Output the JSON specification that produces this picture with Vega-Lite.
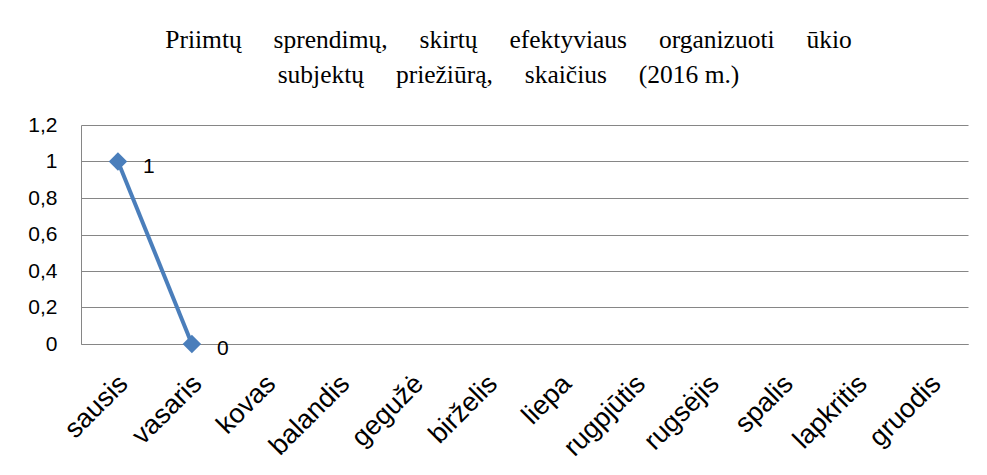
{
  "$schema": "https://vega.github.io/schema/vega-lite/v6.json",
  "width": 887,
  "height": 219,
  "autosize": {"type": "none"},
  "padding": {"left": 81, "top": 125, "right": 19, "bottom": 131},
  "background": "white",
  "title": {
    "text": ["Priimtų\u2003 sprendimų,\u2003 skirtų\u2003 efektyviaus\u2003 organizuoti\u2003 ūkio", "subjektų\u2003 priežiūrą,\u2003 skaičius\u2003 (2016 m.)"],
    "font": "Liberation Serif",
    "fontSize": 25.5,
    "fontWeight": "normal",
    "color": "#000000",
    "lineHeight": 35,
    "anchor": "middle",
    "dx": -16,
    "offset": 26
  },
  "config": {
    "view": {"stroke": null},
    "axis": {
      "labelFont": "Liberation Sans",
      "labelColor": "#000000",
      "domainColor": "#868686",
      "gridColor": "#868686",
      "ticks": false,
      "title": null
    }
  },
  "data": {
    "values": [
      {"menuo": "sausis", "skaicius": 1},
      {"menuo": "vasaris", "skaicius": 0},
      {"menuo": "kovas", "skaicius": null},
      {"menuo": "balandis", "skaicius": null},
      {"menuo": "gegužė", "skaicius": null},
      {"menuo": "birželis", "skaicius": null},
      {"menuo": "liepa", "skaicius": null},
      {"menuo": "rugpjūtis", "skaicius": null},
      {"menuo": "rugsėjis", "skaicius": null},
      {"menuo": "spalis", "skaicius": null},
      {"menuo": "lapkritis", "skaicius": null},
      {"menuo": "gruodis", "skaicius": null}
    ]
  },
  "encoding": {
    "x": {
      "field": "menuo",
      "type": "ordinal",
      "sort": null,
      "scale": {"type": "point", "padding": 0.5},
      "axis": {"labelAngle": -45, "labelFontSize": 27, "labelPadding": 26, "labelOffset": -4, "grid": false, "domain": true}
    },
    "y": {
      "field": "skaicius",
      "type": "quantitative",
      "scale": {"domain": [0, 1.2], "nice": false},
      "axis": {
        "values": [0, 0.2, 0.4, 0.6, 0.8, 1, 1.2],
        "labelExpr": "replace(format(datum.value, '.1~f'), '.', ',')",
        "labelFontSize": 21,
        "labelPadding": 24,
        "grid": true
      }
    }
  },
  "layer": [
    {"mark": {"type": "line", "color": "#4A7EBB", "strokeWidth": 4}},
    {"mark": {"type": "point", "shape": "diamond", "filled": true, "size": 340, "color": "#4A7EBB", "opacity": 1}},
    {
      "mark": {"type": "text", "align": "left", "baseline": "middle", "dx": 25, "dy": 5, "font": "Liberation Sans", "fontSize": 21, "color": "#000000"},
      "encoding": {"text": {"field": "skaicius", "type": "quantitative"}}
    }
  ]
}
